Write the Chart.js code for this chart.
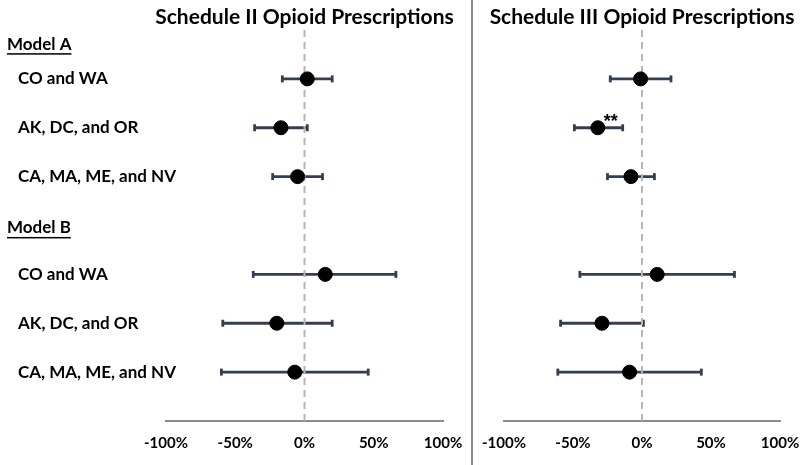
<!DOCTYPE html>
<html>
<head>
<meta charset="utf-8">
<script src="https://cdn.jsdelivr.net/npm/chart.js@4"></script>
<style>
  body { margin: 0; background: #fff; }
  #wrap { position: relative; width: 800px; height: 465px; }
  canvas { position: absolute; left: 0; top: 0; }
</style>
</head>
<body>
<div id="wrap">
  <canvas id="leftChart" width="800" height="465"></canvas>
  <canvas id="rightChart" width="800" height="465"></canvas>
</div>
<script>
// data
var models = ['Model A', 'Model B'];
var rowLabels = ['CO and WA', 'AK, DC, and OR', 'CA, MA, ME, and NV',
                 'CO and WA', 'AK, DC, and OR', 'CA, MA, ME, and NV'];
var rowPos = [1, 2, 3, 5, 6, 7];
var modelPos = [0.29, 4.05];
var xTicks = [-100, -50, 0, 50, 100];

var sched2Title = 'Schedule II Opioid Prescriptions';
var sched2Est = [2, -17, -5, 15, -20, -7];
var sched2Lo  = [-16, -36, -23, -37, -59, -60];
var sched2Hi  = [20, 2, 13, 66, 20, 46];
var sched2Sig = ['', '', '', '', '', ''];

var sched3Title = 'Schedule III Opioid Prescriptions';
var sched3Est = [-1, -32, -8, 11, -29, -9];
var sched3Lo  = [-23, -49, -25, -45, -59, -61];
var sched3Hi  = [21, -14, 9, 67, 1, 43];
var sched3Sig = ['', '**', '', '', '', ''];

var barColor = '#333f50';
var fontFam = 'Lato, "Liberation Sans", sans-serif';

function makeDatasets(est, lo, hi) {
  var sets = [];
  // point estimates on top
  sets.push({
    type: 'scatter',
    data: est.map(function (v, i) { return {x: v, y: rowPos[i]}; }),
    pointRadius: 7,
    pointBackgroundColor: '#000',
    pointBorderColor: '#000',
    pointBorderWidth: 1,
    order: 0
  });
  // zero reference line
  sets.push({
    type: 'line',
    data: [{x: 0, y: 0}, {x: 0, y: 8}],
    borderColor: '#b4b4b4',
    borderWidth: 2,
    borderDash: [7, 5],
    pointRadius: 0,
    order: 1
  });
  // confidence intervals
  for (var i = 0; i < est.length; i++) {
    sets.push({
      type: 'line',
      data: [{x: lo[i], y: rowPos[i]}, {x: hi[i], y: rowPos[i]}],
      borderColor: barColor,
      borderWidth: 2.8,
      pointStyle: 'line',
      pointRotation: 90,
      pointRadius: 3.5,
      pointBorderWidth: 2.8,
      pointBorderColor: barColor,
      order: 2
    });
  }
  return sets;
}

var textPlugin = {
  id: 'panelText',
  afterDatasetsDraw: function (chart) {
    var o = chart.options.plugins.panelText;
    var c = chart.ctx;
    var xs = chart.scales.x, ys = chart.scales.y;
    c.save();
    c.fillStyle = '#000';
    c.textBaseline = 'middle';
    // title
    c.font = 'bold 21px ' + fontFam;
    c.textAlign = 'center';
    c.fillText(o.title, (chart.chartArea.left + chart.chartArea.right) / 2, 17);
    // significance stars
    c.font = 'bold 18px "Liberation Sans", sans-serif';
    c.textAlign = 'left';
    c.textBaseline = 'alphabetic';
    o.sig.forEach(function (s, i) {
      if (!s) return;
      c.fillText(s, xs.getPixelForValue(o.est[i]) + 6, ys.getPixelForValue(rowPos[i]) - 1);
    });
    c.textBaseline = 'middle';
    if (o.labels) {
      // row labels
      c.font = 'bold 17px ' + fontFam;
      rowLabels.forEach(function (t, i) {
        c.fillText(t, 18, ys.getPixelForValue(rowPos[i]));
      });
      // model headers, underlined
      models.forEach(function (m, i) {
        var y = ys.getPixelForValue(modelPos[i]);
        c.fillText(m, 7, y);
        var w = c.measureText(m).width;
        c.fillRect(7, y + 9, w, 1.5);
      });
      // panel separator
      c.strokeStyle = '#8c8c8c';
      c.lineWidth = 2;
      c.beginPath();
      c.moveTo(472, 0);
      c.lineTo(472, 465);
      c.stroke();
    }
    c.restore();
  }
};

function makeChart(id, est, lo, hi, sig, title, padL, padR, labels) {
  return new Chart(document.getElementById(id), {
    type: 'scatter',
    data: { datasets: makeDatasets(est, lo, hi) },
    options: {
      responsive: false,
      animation: false,
      devicePixelRatio: 1,
      layout: { padding: { left: padL, right: padR, top: 30, bottom: 0 } },
      plugins: {
        legend: { display: false },
        tooltip: { enabled: false },
        panelText: { title: title, est: est, sig: sig, labels: labels }
      },
      scales: {
        x: {
          type: 'linear',
          min: -100,
          max: 100,
          afterBuildTicks: function (axis) {
            axis.ticks = xTicks.map(function (v) { return {value: v}; });
          },
          afterFit: function (axis) {
            axis.paddingLeft = 0;
            axis.paddingRight = 0;
            axis.height = 44;
          },
          grid: { display: false, drawTicks: false },
          border: { display: true, color: '#8c8c8c', width: 2 },
          ticks: {
            padding: 13,
            color: '#000',
            maxRotation: 0,
            font: { family: fontFam, size: 15, weight: 'bold' },
            callback: function (v) { return v + '%'; }
          }
        },
        y: {
          type: 'linear',
          display: false,
          reverse: true,
          min: 0,
          max: 8
        }
      }
    },
    plugins: [textPlugin]
  });
}

makeChart('leftChart', sched2Est, sched2Lo, sched2Hi, sched2Sig, sched2Title, 166, 357, true);
makeChart('rightChart', sched3Est, sched3Lo, sched3Hi, sched3Sig, sched3Title, 504, 20, false);
</script>
</body>
</html>
